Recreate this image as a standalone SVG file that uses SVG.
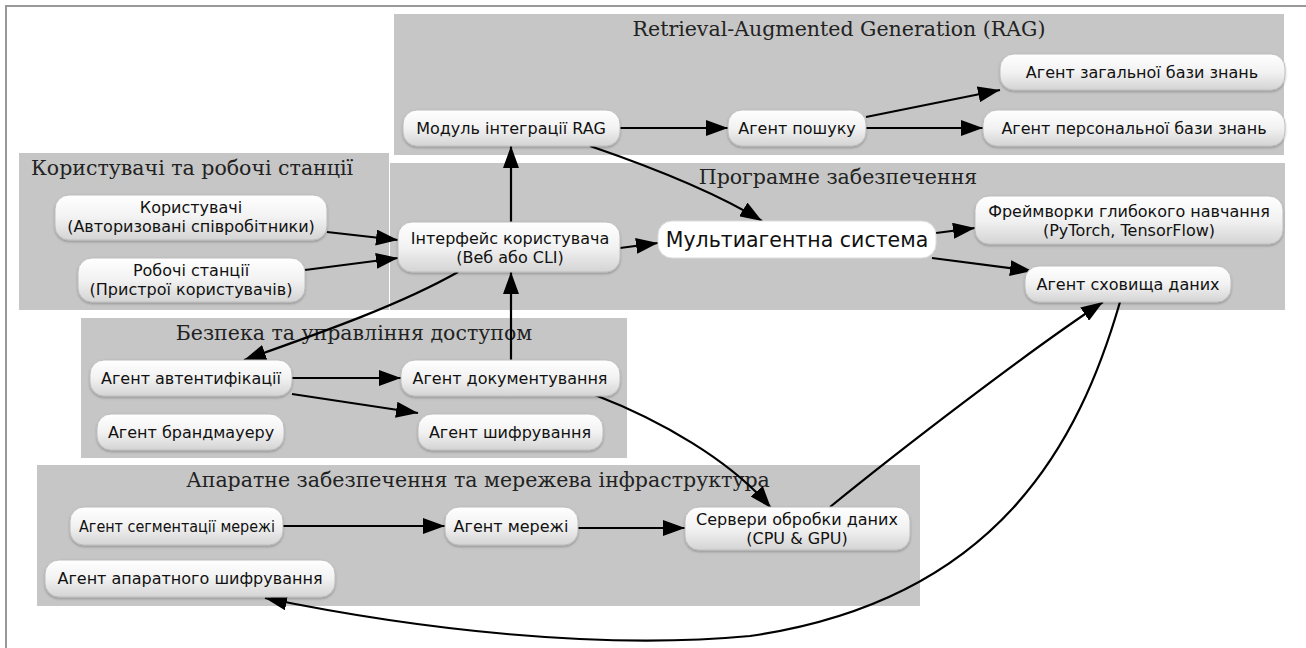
<svg xmlns="http://www.w3.org/2000/svg" width="1306" height="648" viewBox="0 0 1306 648">
<defs>
<linearGradient id="ng" x1="0" y1="0" x2="0" y2="1">
<stop offset="0" stop-color="#ffffff"/>
<stop offset="0.5" stop-color="#f2f2f2"/>
<stop offset="1" stop-color="#d4d4d4"/>
</linearGradient>
<filter id="sh" x="-10%" y="-20%" width="120%" height="150%">
<feDropShadow dx="0" dy="1.5" stdDeviation="1" flood-color="#000" flood-opacity="0.25"/>
</filter>
<marker id="ah" viewBox="0 0 22 16" refX="22" refY="8" markerWidth="22" markerHeight="16" markerUnits="userSpaceOnUse" orient="auto">
<path d="M0,0 L22,8 L0,16 Z" fill="#000"/>
</marker>
</defs>
<style>
.cl{fill:#c6c6c6}
.ct{font-family:"DejaVu Serif",serif;font-size:20.5px;fill:#222;text-anchor:middle}
.nd{fill:url(#ng);stroke:#bdbdbd;stroke-width:1;filter:url(#sh)}
.nt{font-family:"DejaVu Sans",sans-serif;font-size:16px;fill:#111;text-anchor:middle}
.e{fill:none;stroke:#000;stroke-width:2.2;marker-end:url(#ah)}
</style>
<rect width="1306" height="648" fill="#fff"/>
<path d="M6,648 V6 H1306" fill="none" stroke="#999" stroke-width="2"/>

<g id="cluster_rag"><rect class="cl" x="394" y="14" width="890" height="141"/><text class="ct" x="839" y="36">Retrieval-Augmented Generation (RAG)</text></g>
<g id="cluster_users"><rect class="cl" x="19" y="153" width="370" height="157"/><text class="ct" x="192" y="175">Користувачі та робочі станції</text></g>
<g id="cluster_sw"><rect class="cl" x="390" y="163" width="895" height="147"/><text class="ct" x="838" y="184">Програмне забезпечення</text></g>
<g id="cluster_sec"><rect class="cl" x="81" y="318" width="546" height="140"/><text class="ct" x="354" y="340">Безпека та управління доступом</text></g>
<g id="cluster_hw"><rect class="cl" x="37" y="465" width="883" height="141"/><text class="ct" x="478" y="487">Апаратне забезпечення та мережева інфраструктура</text></g>

<g id="connectors">
<path class="e" d="M620,128 L728,128"/>
<path class="e" d="M866,117 L1000,90"/>
<path class="e" d="M866,128 L983,128"/>
<path class="e" d="M590,146 C660,170 720,195 762,221"/>
<path class="e" d="M511,222 L511,146"/>
<path class="e" d="M327,232 L398,240"/>
<path class="e" d="M305,270 L398,258"/>
<path class="e" d="M620,248 L658,243"/>
<path class="e" d="M936,233 L975,228"/>
<path class="e" d="M932,258 L1032,271"/>
<path class="e" d="M458,272 C400,305 320,333 244,360"/>
<path class="e" d="M511,360 L511,272"/>
<path class="e" d="M292,378 L401,378"/>
<path class="e" d="M292,394 L418,413"/>
<path class="e" d="M595,395 C660,420 730,460 771,508"/>
<path class="e" d="M283,526 L445,526"/>
<path class="e" d="M578,528 L685,528"/>
<path class="e" d="M830,507 C900,450 1030,350 1103,302"/>
<path class="e" d="M1120,302 C1080,440 1000,600 750,636 C600,650 420,630 265,598"/>
</g>

<g id="n_rag"><rect class="nd" x="403" y="110" width="217" height="36" rx="14"/><text class="nt" x="511" y="134">Модуль інтеграції RAG</text></g>
<g id="n_search"><rect class="nd" x="728" y="110" width="138" height="36" rx="14"/><text class="nt" x="797" y="134">Агент пошуку</text></g>
<g id="n_gkb"><rect class="nd" x="1000" y="54" width="285" height="36" rx="14"/><text class="nt" x="1142" y="78">Агент загальної бази знань</text></g>
<g id="n_pkb"><rect class="nd" x="983" y="110" width="302" height="36" rx="14"/><text class="nt" x="1134" y="134">Агент персональної бази знань</text></g>
<g id="n_users"><rect class="nd" x="55" y="195" width="272" height="45" rx="14"/><text class="nt" x="191" y="213">Користувачі</text><text class="nt" x="191" y="232">(Авторизовані співробітники)</text></g>
<g id="n_ws"><rect class="nd" x="78" y="258" width="227" height="44" rx="14"/><text class="nt" x="191" y="276">Робочі станції</text><text class="nt" x="191" y="295">(Пристрої користувачів)</text></g>
<g id="n_ui"><rect class="nd" x="398" y="222" width="222" height="50" rx="14"/><text class="nt" x="510" y="244">Інтерфейс користувача</text><text class="nt" x="510" y="263">(Веб або CLI)</text></g>
<g id="n_mas"><rect x="658" y="221" width="278" height="37" rx="14" fill="#fff" stroke="#ddd" stroke-width="1"/><text x="797" y="247" font-family="DejaVu Sans, sans-serif" font-size="20.5" fill="#111" text-anchor="middle">Мультиагентна система</text></g>
<g id="n_dl"><rect class="nd" x="975" y="196" width="308" height="48" rx="14"/><text class="nt" x="1129" y="217">Фреймворки глибокого навчання</text><text class="nt" x="1129" y="236">(PyTorch, TensorFlow)</text></g>
<g id="n_store"><rect class="nd" x="1025" y="266" width="206" height="36" rx="14"/><text class="nt" x="1128" y="290">Агент сховища даних</text></g>
<g id="n_auth"><rect class="nd" x="90" y="360" width="202" height="36" rx="14"/><text class="nt" x="191" y="384">Агент автентифікації</text></g>
<g id="n_doc"><rect class="nd" x="401" y="360" width="219" height="36" rx="14"/><text class="nt" x="510" y="384">Агент документування</text></g>
<g id="n_fw"><rect class="nd" x="97" y="414" width="187" height="36" rx="14"/><text class="nt" x="191" y="438">Агент брандмауеру</text></g>
<g id="n_enc"><rect class="nd" x="418" y="414" width="185" height="36" rx="14"/><text class="nt" x="510" y="438">Агент шифрування</text></g>
<g id="n_seg"><rect class="nd" x="70" y="507" width="213" height="38" rx="14"/><text class="nt" x="177" y="532" textLength="196" lengthAdjust="spacingAndGlyphs">Агент сегментації мережі</text></g>
<g id="n_net"><rect class="nd" x="445" y="507" width="133" height="38" rx="14"/><text class="nt" x="511" y="532">Агент мережі</text></g>
<g id="n_srv"><rect class="nd" x="685" y="507" width="225" height="43" rx="14"/><text class="nt" x="797" y="525">Сервери обробки даних</text><text class="nt" x="797" y="544">(CPU &amp; GPU)</text></g>
<g id="n_hwenc"><rect class="nd" x="45" y="560" width="290" height="37" rx="14"/><text class="nt" x="190" y="584">Агент апаратного шифрування</text></g>
</svg>
